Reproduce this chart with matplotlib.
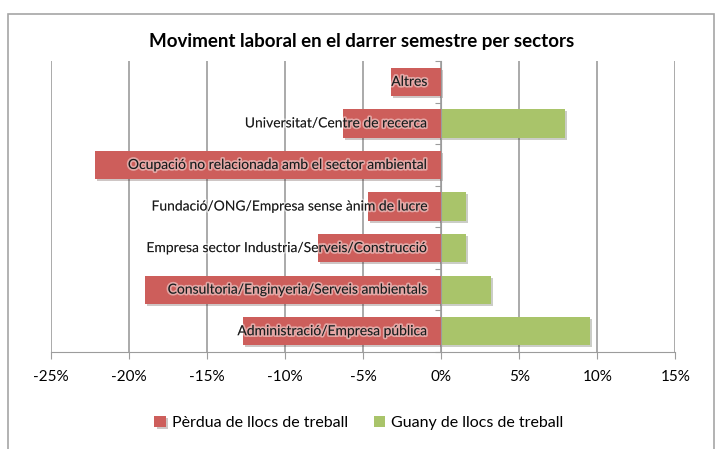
import numpy as np
import matplotlib.pyplot as plt
import matplotlib.patheffects as pe
from matplotlib.patches import Rectangle
from matplotlib.ticker import FuncFormatter

plt.rcParams['font.family'] = ['Lato', 'DejaVu Sans']

# data, top to bottom
sectors = [
    "Altres",
    "Universitat/Centre de recerca",
    "Ocupació no relacionada amb el sector ambiental",
    "Fundació/ONG/Empresa sense ànim de lucre",
    "Empresa sector Industria/Serveis/Construcció",
    "Consultoria/Enginyeria/Serveis ambientals",
    "Administració/Empresa pública",
]
perdua = [-3.2, -6.3, -22.2, -4.7, -7.9, -19.0, -12.7]
guany = [0.0, 7.9, 0.0, 1.6, 1.6, 3.2, 9.5]

red = "#CD5E5B"
green = "#A9C46A"
grid_col = "#9C9C9C"

fig = plt.figure(figsize=(7.18, 4.49), dpi=100)
ax = fig.add_axes([0.071, 0.216, 0.8698, 0.6481])

# chart area border
fig.patches.append(Rectangle((8 / 718, -0.05), 706 / 718, 1 - 14 / 449 + 0.05,
                             transform=fig.transFigure, fill=False,
                             edgecolor="#A6A6A6", linewidth=1.2))

y = np.arange(len(sectors))
shadow = [pe.SimplePatchShadow(offset=(1.5, -1.5), alpha=0.25), pe.Normal()]
b1 = ax.barh(y, perdua, height=0.68, color=red, label="Pèrdua de llocs de treball", zorder=3)
b2 = ax.barh(y, guany, height=0.68, color=green, label="Guany de llocs de treball", zorder=3)
for bar in list(b1) + list(b2):
    if bar.get_width() != 0:
        bar.set_path_effects(shadow)

ax.set_xlim(-25, 15)
ax.set_ylim(len(sectors) - 0.5, -0.5)
ax.set_xticks(np.arange(-25, 16, 5))
ax.xaxis.set_major_formatter(FuncFormatter(lambda v, p: f"{v:.0f}%"))
ax.tick_params(axis="x", length=5, color=grid_col, labelsize=11, pad=8)
ax.xaxis.grid(True, color=grid_col, linewidth=1.2, zorder=0)
ax.set_axisbelow(True)

# vertical axis at zero with ticks between categories
ax.spines["left"].set_position(("data", 0))
ax.spines["left"].set_color(grid_col)
ax.spines["left"].set_zorder(4)
ax.spines["bottom"].set_color(grid_col)
ax.spines["top"].set_visible(False)
ax.spines["right"].set_visible(False)
ax.set_yticks(np.arange(-0.5, len(sectors), 1))
ax.set_yticklabels([])
ax.tick_params(axis="y", length=4, color=grid_col, direction="out")

glow = [pe.withStroke(linewidth=2.5, foreground=(1, 1, 1, 0.45))]
for yi, name in zip(y, sectors):
    ax.annotate(name, xy=(0, yi), xytext=(-10, 0), textcoords="offset points",
                ha="right", va="center", fontsize=10, color="#1A1A1A",
                path_effects=glow, zorder=5)

fig.text(0.504, 1 - 41 / 449, "Moviment laboral en el darrer semestre per sectors",
         ha="center", va="center", fontsize=13.5, fontweight="bold")

fig.legend(handles=[b1, b2], loc="center", bbox_to_anchor=(0.5, 1 - 423 / 449),
           ncol=2, frameon=False, fontsize=11.5, handlelength=0.7, handleheight=0.7,
           handletextpad=0.4, columnspacing=1.6)

fig.savefig("out.png", dpi=100)
